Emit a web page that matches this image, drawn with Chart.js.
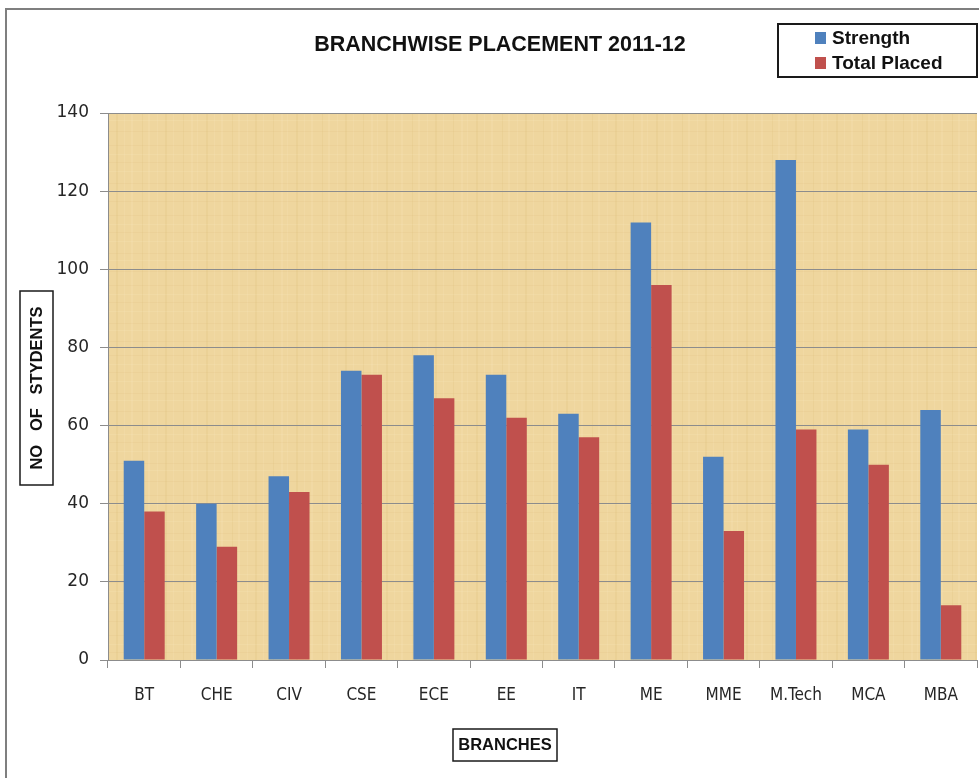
<!DOCTYPE html>
<html>
<head>
<meta charset="utf-8">
<title>Branchwise Placement 2011-12</title>
<script src="https://cdn.jsdelivr.net/npm/chart.js@4.4.1/dist/chart.umd.min.js"></script>
<style>
    html, body { margin: 0; padding: 0; background: #ffffff; }
    #placementChart { display: block; }
</style>
</head>
<body>
<canvas id="placementChart" width="979" height="778"></canvas>
<script>
// Datos
const ramas = ['BT', 'CHE', 'CIV', 'CSE', 'ECE', 'EE', 'IT', 'ME', 'MME', 'M.Tech', 'MCA', 'MBA'];
const strength = [51, 40, 47, 74, 78, 73, 63, 112, 52, 128, 59, 64];
const totalPlaced = [38, 29, 43, 73, 67, 62, 57, 96, 33, 59, 50, 14];
const ejeY = { min: 0, max: 140, paso: 20 };
const nombresSeries = ['Strength', 'Total Placed'];
const colores = ['#4F81BD', '#C0504D'];

// Textura tipo papiro para el fondo del area del grafico
function crearTextura(ctx) {
    const c = document.createElement('canvas');
    c.width = 90;
    c.height = 70;
    const g = c.getContext('2d');
    g.fillStyle = '#EFD69E';
    g.fillRect(0, 0, 90, 70);
    // fibras verticales y horizontales, suaves
    const vert = [3, 11, 17, 26, 34, 41, 52, 58, 67, 75, 83];
    const hori = [5, 14, 22, 31, 43, 50, 61];
    vert.forEach((x, i) => {
        g.fillStyle = (i % 3 === 0) ? 'rgba(205,165,90,0.10)' : 'rgba(255,242,205,0.14)';
        g.fillRect(x, 0, (i % 2) + 1, 70);
    });
    hori.forEach((y, i) => {
        g.fillStyle = (i % 2 === 0) ? 'rgba(200,160,85,0.07)' : 'rgba(255,245,215,0.12)';
        g.fillRect(0, y, 90, 1);
    });
    return ctx.createPattern(c, 'repeat');
}

const fondoPapiro = {
    id: 'fondoPapiro',
    beforeDraw(chart) {
        const { ctx, chartArea: a } = chart;
        ctx.save();
        ctx.fillStyle = crearTextura(ctx);
        ctx.fillRect(a.left, a.top, a.right - a.left, a.bottom - a.top);
        ctx.restore();
    }
};

// Titulo, leyenda con marco, titulos de ejes con marco y borde exterior
const decoracion = {
    id: 'decoracion',
    afterDraw(chart) {
        const ctx = chart.ctx;
        ctx.save();

        // borde exterior
        ctx.strokeStyle = '#7F7F7F';
        ctx.lineWidth = 2;
        ctx.strokeRect(6, 9, 990, 800);

        // titulo
        ctx.fillStyle = '#111111';
        ctx.font = 'bold 21.5px "Liberation Sans", Arial, sans-serif';
        ctx.textAlign = 'center';
        ctx.textBaseline = 'middle';
        ctx.fillText('BRANCHWISE PLACEMENT 2011-12', 500, 45);

        // leyenda
        ctx.strokeStyle = '#1A1A1A';
        ctx.lineWidth = 2;
        ctx.strokeRect(778, 24, 199, 53);
        ctx.font = 'bold 19px "Liberation Sans", Arial, sans-serif';
        ctx.textAlign = 'left';
        nombresSeries.forEach((nombre, i) => {
            const y = 38 + i * 25;
            ctx.fillStyle = colores[i];
            ctx.fillRect(815, y - 6, 11, 12);
            ctx.fillStyle = '#111111';
            ctx.fillText(nombre, 832, y + 1);
        });

        // titulo eje X
        ctx.font = 'bold 16.5px "Liberation Sans", Arial, sans-serif';
        ctx.textAlign = 'center';
        ctx.fillText('BRANCHES', 505, 745);
        ctx.strokeStyle = '#1A1A1A';
        ctx.lineWidth = 1.5;
        ctx.strokeRect(453, 729, 104, 32);

        // titulo eje Y (rotado)
        ctx.translate(36, 388);
        ctx.rotate(-Math.PI / 2);
        ctx.font = 'bold 16.5px "Liberation Sans", Arial, sans-serif';
        ctx.fillText('NO   OF   STYDENTS', 0, 1);
        ctx.strokeRect(-97, -16, 194, 33);

        ctx.restore();
    }
};

function inicializarGrafico() {
    const ctx = document.getElementById('placementChart').getContext('2d');
    new Chart(ctx, {
        type: 'bar',
        data: {
            labels: ramas,
            datasets: [{
                label: nombresSeries[0],
                data: strength,
                backgroundColor: colores[0]
            }, {
                label: nombresSeries[1],
                data: totalPlaced,
                backgroundColor: colores[1]
            }]
        },
        options: {
            responsive: false,
            animation: false,
            categoryPercentage: 0.566,
            barPercentage: 1,
            layout: {
                padding: { top: 113, right: 2, left: 0, bottom: 0 }
            },
            plugins: {
                legend: { display: false },
                title: { display: false },
                tooltip: { enabled: false }
            },
            scales: {
                x: {
                    grid: {
                        offset: true,
                        drawOnChartArea: false,
                        tickLength: 8,
                        color: '#8C8C8C'
                    },
                    border: { color: '#8C8C8C' },
                    ticks: {
                        padding: 17,
                        color: '#262626',
                        font: { family: '"Liberation Sans Narrow", "DejaVu Sans Condensed", sans-serif', size: 17 }
                    },
                    afterFit(scale) { scale.height = 118; }
                },
                y: {
                    min: ejeY.min,
                    max: ejeY.max,
                    ticks: {
                        stepSize: ejeY.paso,
                        padding: 11,
                        color: '#262626',
                        font: { family: '"DejaVu Sans", sans-serif', size: 17 }
                    },
                    grid: {
                        color: '#8C8C8C',
                        tickLength: 8
                    },
                    border: { color: '#8C8C8C' },
                    afterFit(scale) { scale.width = 108; }
                }
            }
        },
        plugins: [fondoPapiro, decoracion]
    });
}

document.addEventListener('DOMContentLoaded', () => {
    inicializarGrafico();
});
</script>
</body>
</html>
